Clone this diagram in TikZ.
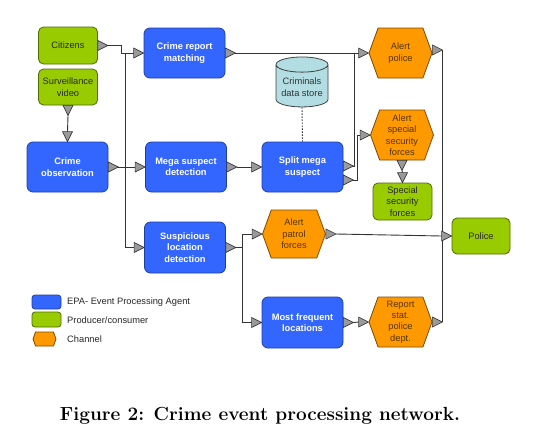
\documentclass[tikz,border=0pt]{standalone}
\usepackage{fontspec}
\newfontfamily\diagfont{Liberation Sans}
\usetikzlibrary{shapes.geometric,shapes.symbols}
\definecolor{epablue}{HTML}{3366FF}
\definecolor{epaline}{HTML}{1F3F9F}
\definecolor{prodgreen}{HTML}{99CC00}
\definecolor{prodline}{HTML}{4F6A00}
\definecolor{chanorange}{HTML}{FF9900}
\definecolor{chanline}{HTML}{7A4A00}
\definecolor{storecyan}{HTML}{B2DDE2}
\definecolor{portgray}{HTML}{9A9A9A}
% ports: triangle with its base on the given point
\newcommand{\portE}[1]{\filldraw[port] (#1) ++(0,-5) -- ++(10,5) -- ++(-10,5) -- cycle;}
\newcommand{\portS}[1]{\filldraw[port] (#1) ++(-5,0) -- ++(5,10) -- ++(5,-10) -- cycle;}
\begin{document}
\begin{tikzpicture}[x=1pt,y=-1pt,
  every node/.style={font=\diagfont\fontsize{9.3}{11.4}\selectfont, align=center, inner sep=1pt},
  epa/.style={draw=epaline, fill=epablue, text=white, font=\diagfont\bfseries\fontsize{9.3}{11.4}\selectfont,
    rounded corners=6pt, line width=0.8pt, minimum width=81pt, minimum height=50pt},
  prod/.style={draw=prodline, fill=prodgreen, text=black!85, rounded corners=5pt, line width=0.8pt,
    minimum width=59pt, minimum height=37pt},
  chan/.style={shape=signal, signal to=east and west, signal pointer angle=140, draw=chanline,
    fill=chanorange, text=chanline!70!black, line width=0.8pt, minimum width=63pt, minimum height=50pt, inner sep=0pt},
  port/.style={fill=portgray, draw=black!80, line width=0.6pt},
  flow/.style={draw=black!80, line width=0.9pt},
]
\useasboundingbox (0,0) rectangle (535,442);

% producers and consumers
\node[prod] (cit) at (68,45.5) {Citizens};
\node[prod, minimum height=36pt] (surv) at (68,87) {Surveillance\\video};
\node[prod] (ssf) at (402.5,201.5) {Special\\security\\forces};
\node[prod, minimum width=58pt, minimum height=36pt] (police) at (481,236) {Police};

% event processing agents
\node[epa] (obs) at (67.5,167) {Crime\\observation};
\node[epa] (crm) at (184.5,53) {Crime report\\matching};
\node[epa] (mega) at (186,167) {Mega suspect\\detection};
\node[epa] (split) at (302.5,167) {Split mega\\suspect};
\node[epa, minimum height=51pt] (sld) at (185,247.5) {Suspicious\\location\\detection};
\node[epa, minimum height=51pt] (mfl) at (302.5,322.5) {Most frequent\\locations};

% channels
\node[chan] (alpol) at (400.5,53) {Alert\\police};
\node[chan] (alspec) at (402,135) {Alert\\special\\security\\forces};
\node[chan, minimum height=48pt] (alpat) at (294,234) {Alert\\patrol\\forces};
\node[chan] (rsp) at (400.5,322) {Report\\stat.\\police\\dept.};

% store
\node[cylinder, shape border rotate=90, aspect=0.35, draw=black!75, line width=0.8pt, fill=storecyan,
  text=black!80, minimum width=52pt, minimum height=50pt] (store) at (302,87) {Criminals\\data store};

% connectors
\draw[flow] ([xshift=10pt]cit.east) -- ++(14,0) |- ([xshift=-10pt]crm.west);
\draw[flow] ([yshift=-10pt]surv.south) -- ([yshift=10pt]obs.north);
\draw[flow] ([xshift=10pt]obs.east) -- ([xshift=-10pt]mega.west);
\draw[flow] ([xshift=-18pt]crm.west) |- ([xshift=-10pt]sld.west);
\draw[flow] ([xshift=10pt]crm.east) -- ([xshift=-10pt]alpol.west);
\draw[flow] ([xshift=10pt]mega.east) -- ([xshift=-10pt]split.west);
\draw[flow] ([shift={(10pt,1pt)}]split.east) -- ++(1,0) |- ([xshift=-10pt]alpol.west);
\draw[flow] ([shift={(10pt,-13pt)}]split.east) -- ++(4,0) |- ([xshift=-10pt]alspec.west);
\draw[flow, dash pattern=on 1.5pt off 1.5pt] (store.south) -- (split.north);
\draw[flow] ([yshift=-10pt]alspec.south) -- ([yshift=10pt]ssf.north);
\draw[flow] ([xshift=10pt]sld.east) -- ++(7,0) |- ([xshift=-10pt]alpat.west);
\draw[flow] ([xshift=10pt]sld.east) -- ++(7,0) |- ([xshift=-10pt]mfl.west);
\draw[flow] ([xshift=10pt]mfl.east) -- ([xshift=-10pt]rsp.west);
\draw[flow] ([xshift=10pt]alpat.east) -- ([xshift=-10pt]police.west);
\draw[flow] ([shift={(10pt,3pt)}]alpol.east) |- ([xshift=-10pt]police.west);
\draw[flow] ([xshift=10pt]rsp.east) |- ([xshift=-10pt]police.west);

% ports
\foreach \n in {crm,mega,sld,split,alpol,alspec,alpat,mfl,rsp,police} \portE{[xshift=-10pt]\n.west};
\foreach \n in {cit,obs,crm,mega,sld,alpat,mfl,rsp} \portE{\n.east};
\portE{[yshift=1pt]split.east}
\portE{[yshift=-13pt]split.east}
\portE{[yshift=3pt]alpol.east}
\portS{surv.south}
\portS{[yshift=10pt]obs.north}
\portS{alspec.south}
\portS{[yshift=10pt]ssf.north}

% legend
\node[epa, minimum width=29pt, minimum height=14pt, rounded corners=3pt] (lgepa) at (46.5,302) {};
\node[prod, minimum width=29pt, minimum height=15pt, rounded corners=3pt] (lgprod) at (46.5,319.5) {};
\node[chan, minimum width=23pt, minimum height=14pt] (lgchan) at (44.5,339) {};
\node[anchor=west, text=black!85] (lgepatext) at (66,302.5) {EPA- Event Processing Agent};
\node[anchor=west, text=black!85] (lgprodtext) at (66,320) {Producer/consumer};
\node[anchor=west, text=black!85] (lgchantext) at (66,339) {Channel};

% caption
\node (caption) at (260,415.5) {\normalfont\bfseries\fontsize{19}{23}\selectfont Figure 2: Crime event processing network.};
\end{tikzpicture}
\end{document}
